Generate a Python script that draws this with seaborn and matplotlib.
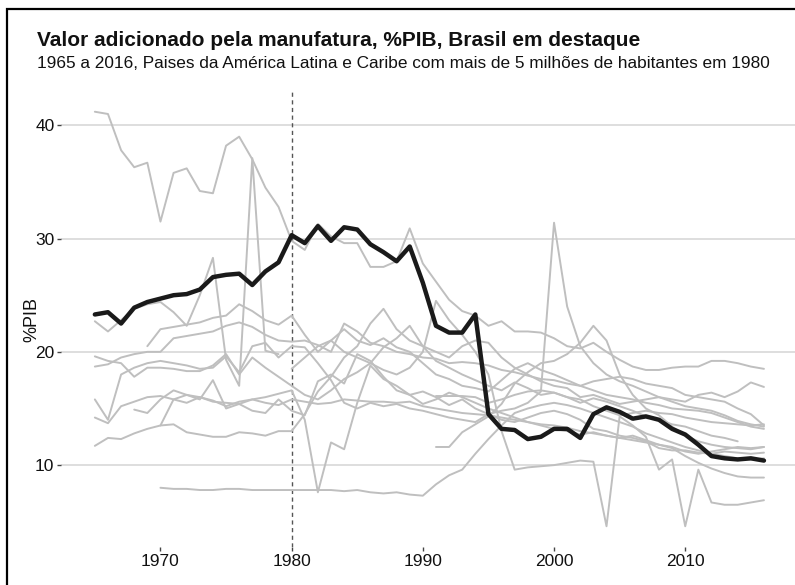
import numpy as np
import pandas as pd
import seaborn as sns
import matplotlib.pyplot as plt
from matplotlib.patches import Rectangle

# Brazil, 1965-2016
brasil_ano0 = 1965
brasil = [23.3, 23.5, 22.5, 23.9, 24.4, 24.7, 25.0, 25.1, 25.5, 26.6,
          26.8, 26.9, 25.9, 27.1, 27.9, 30.3, 29.6, 31.1, 29.8, 31.0,
          30.8, 29.5, 28.8, 28.0, 29.3, 26.1, 22.3, 21.7, 21.7, 23.3,
          14.5, 13.2, 13.1, 12.3, 12.5, 13.2, 13.2, 12.4, 14.5, 15.1,
          14.7, 14.1, 14.3, 14.0, 13.2, 12.7, 11.8, 10.8, 10.6, 10.5,
          10.6, 10.4]

# other countries (first year, values)
pais01_ano0 = 1965
pais01 = [41.2, 41.0, 37.8, 36.3, 36.7, 31.5, 35.8, 36.2, 34.2, 34.0,
          38.2, 39.0, 37.0, 34.5, 32.8, 29.8, 29.0, 31.3, 30.2, 29.6,
          29.6, 27.5, 27.5, 28.0, 30.9, 27.8, 26.2, 24.6, 23.6, 23.2,
          22.3, 22.7, 21.8, 21.8, 21.7, 21.2, 20.5, 20.3, 20.8, 20.0,
          19.3, 18.7, 18.4, 18.4, 18.6, 18.7, 18.7, 19.2, 19.2, 19.0,
          18.7, 18.5]
pais02_ano0 = 1965
pais02 = [22.7, 21.8, 22.8, 23.8, 24.2, 24.4, 23.5, 22.3, 25.0, 28.3,
          19.3, 17.0, 37.1, 20.1, 19.8]
pais03_ano0 = 1965
pais03 = [19.6, 19.2, 19.0, 17.8, 18.6, 18.6, 18.5, 18.3, 18.3, 18.8,
          19.8, 18.0, 19.5, 18.6, 17.8, 17.0, 16.2, 15.8, 16.6, 17.6,
          18.2, 19.0, 20.4, 21.2, 22.3, 20.5, 19.2, 18.6, 18.0, 17.5,
          17.0, 16.6, 17.3, 16.8, 16.2, 16.4, 16.0, 15.5, 15.9, 15.6,
          15.2, 14.8, 14.3, 14.0, 13.6, 13.4, 13.0, 12.6, 12.4, 12.1]
pais04_ano0 = 1965
pais04 = [18.7, 18.9, 19.5, 19.8, 20.0, 20.0, 21.2, 21.4, 21.6, 21.8,
          22.3, 22.6, 22.2, 21.5, 21.0, 20.9, 21.0, 20.6, 20.0, 22.5,
          21.8, 20.8, 20.5, 20.0, 19.8, 19.5, 19.4, 19.0, 19.1, 19.0,
          18.8, 18.4, 18.2, 17.9, 17.6, 17.5, 17.2, 17.0, 17.4, 17.6,
          17.8, 17.6, 17.2, 17.0, 16.8, 16.2, 16.0, 15.8, 15.6, 15.0,
          14.5, 13.5]
pais05_ano0 = 1965
pais05 = [15.8, 14.0, 18.0, 18.6, 19.0, 19.2, 19.0, 18.8, 18.5, 18.6,
          19.6, 18.2, 20.5, 20.8, 19.5, 20.5, 20.4, 19.0, 17.5, 15.5,
          15.0, 15.5, 15.2, 15.4, 15.0, 14.8, 14.5, 14.2, 14.0, 13.8,
          14.5, 14.8, 15.0, 15.5, 16.5, 31.4, 24.0, 20.5, 19.0, 18.0,
          17.4, 17.0, 16.5, 16.0, 15.6, 15.2, 15.0, 14.8, 14.4, 13.9,
          13.6, 13.4]
pais06_ano0 = 1965
pais06 = [14.2, 13.7, 15.2, 15.6, 16.0, 16.1, 15.8, 15.5, 16.0, 15.7,
          15.2, 15.6, 15.8, 16.0, 16.3, 16.6, 14.0, 7.6, 12.0, 11.4,
          15.5, 18.8, 17.6, 17.0, 16.2, 15.4, 15.8, 16.4, 16.0, 15.5,
          15.0, 14.6, 14.2, 13.8, 13.5, 13.2, 13.0, 12.7, 12.9, 12.6,
          12.4, 12.6, 12.2, 11.8, 11.6, 11.2, 11.0, 11.2, 11.4, 11.6,
          11.5, 11.6]
pais07_ano0 = 1965
pais07 = [11.7, 12.4, 12.3, 12.8, 13.2, 13.5, 15.8, 16.2, 16.0, 15.6,
          15.5, 15.4, 15.8, 15.5, 15.3, 15.8, 15.6, 15.4, 15.5, 15.8,
          15.7, 15.6, 15.6, 15.5, 15.6, 15.2, 15.0, 14.8, 14.6, 14.5,
          14.4, 14.2, 14.0, 13.8, 13.6, 13.5, 13.3, 13.0, 12.8, 12.6,
          12.4, 12.2, 12.0, 11.8, 11.5, 10.8, 10.2, 9.7, 9.3, 9.0,
          8.9, 8.9]
pais08_ano0 = 1968
pais08 = [14.9, 14.6, 15.8, 16.6, 16.2, 15.8, 17.5, 15.0, 15.4, 14.8,
          14.6, 15.8, 14.8, 14.4, 17.4, 18.0, 17.2, 19.8, 19.2, 17.8,
          16.6, 16.2, 16.5, 16.0, 15.3, 15.8, 15.0, 14.5, 14.0, 13.8,
          14.2, 14.6, 14.8, 14.5, 14.0, 13.2, 13.0, 12.6, 12.4, 12.1,
          11.5, 11.3, 11.3, 11.1, 11.0, 11.2, 11.1, 11.0, 11.1]
pais09_ano0 = 1970
pais09 = [13.5, 13.6, 12.9, 12.7, 12.5, 12.5, 12.9, 12.8, 12.6, 13.0,
          13.0, 14.5, 16.5, 17.8, 19.5, 20.5, 22.5, 23.8, 22.0, 21.0,
          20.5, 20.0, 19.5, 20.5, 21.0, 20.8, 19.5, 18.6, 18.0, 17.4,
          17.0, 16.8, 16.0, 16.2, 15.8, 15.4, 15.6, 15.8, 16.0, 15.8,
          15.6, 16.2, 16.4, 16.0, 16.5, 17.3, 16.9]
pais10_ano0 = 1970
pais10 = [8.0, 7.9, 7.9, 7.8, 7.8, 7.9, 7.9, 7.8, 7.8, 7.8,
          7.8, 7.8, 7.8, 7.8, 7.7, 7.8, 7.6, 7.5, 7.6, 7.4,
          7.3, 8.3, 9.1, 9.6, 11.0, 12.3, 13.5, 14.6, 15.0, 15.3,
          15.5, 15.3, 15.0, 14.6, 14.2, 13.8, 13.4, 12.8, 12.4, 12.0,
          11.6, 11.3, 11.0, 10.8, 10.6, 10.5, 10.6]
pais11_ano0 = 1969
pais11 = [20.5, 22.0, 22.2, 22.4, 22.6, 23.0, 23.2, 24.2, 23.6, 22.8,
          22.4, 23.2, 21.5, 20.0, 21.0, 22.0, 21.0, 20.6, 21.2, 20.4,
          20.0, 19.0, 18.0, 17.6, 17.0, 16.8, 16.5, 17.5, 18.5, 19.0,
          18.4, 18.0, 17.5, 17.0, 16.6, 16.2, 16.0, 15.8, 15.5, 15.3,
          15.0, 14.9, 14.8, 14.6, 14.2, 13.8, 13.4, 13.2]
pais12_ano0 = 1980
pais12 = [18.5, 19.5, 20.5, 21.0, 20.0, 19.5, 19.0, 18.4, 18.0, 18.6,
          20.0, 24.5, 22.8, 21.5, 20.0, 18.0, 13.0, 9.6, 9.8, 9.9,
          10.0, 10.2, 10.4, 10.3, 4.6, 14.3, 13.5, 12.5, 9.6, 10.5,
          4.6, 9.6, 6.7, 6.5, 6.5, 6.7, 6.9]
pais13_ano0 = 1991
pais13 = [16.1, 16.1, 16.1, 16.0, 15.5, 15.8, 16.2, 16.5, 16.6, 16.4,
          16.0, 15.8, 15.2, 14.8, 14.4, 14.6, 14.8, 14.6, 14.5, 14.2,
          14.0, 13.8, 13.7, 13.6, 13.5, 13.6]
pais14_ano0 = 1991
pais14 = [11.6, 11.6, 12.9, 13.6, 14.3, 15.4, 17.2, 18.2, 19.0, 19.2,
          19.8, 20.8, 22.3, 21.0, 18.0, 16.2, 15.0, 14.4, 13.4, 12.6,
          12.1, 11.8, 11.6, 11.5, 11.4, 11.6]

outros = [(pais01_ano0, pais01), (pais02_ano0, pais02), (pais03_ano0, pais03),
          (pais04_ano0, pais04), (pais05_ano0, pais05), (pais06_ano0, pais06),
          (pais07_ano0, pais07), (pais08_ano0, pais08), (pais09_ano0, pais09),
          (pais10_ano0, pais10), (pais11_ano0, pais11), (pais12_ano0, pais12),
          (pais13_ano0, pais13), (pais14_ano0, pais14)]

rows = []
for i, (ano0, vals) in enumerate(outros):
    for j, v in enumerate(vals):
        rows.append({'pais': 'p%02d' % i, 'ano': ano0 + j, 'pib': v})
df = pd.DataFrame(rows)
df_br = pd.DataFrame({'ano': np.arange(brasil_ano0, brasil_ano0 + len(brasil)),
                      'pib': brasil})

sns.set_theme(style='white')
plt.rcParams['font.family'] = ['Liberation Sans', 'DejaVu Sans']

fig = plt.figure(figsize=(7.95, 5.85), dpi=100)
ax = fig.add_axes([61.4 / 795, 38 / 585, 736 / 795, 456 / 585])

ax.axvline(1980, color='#555555', lw=1.0, ls=(0, (3, 2.5)), zorder=1)
sns.lineplot(data=df, x='ano', y='pib', units='pais', estimator=None,
             color='#bfbfbf', lw=1.4, ax=ax, zorder=2)
sns.lineplot(data=df_br, x='ano', y='pib', color='#1a1a1a', lw=3.2,
             ax=ax, zorder=3)

ax.set_xlim(1962.45, 2018.55)
ax.set_ylim(2.77, 43.03)
ax.set_xticks([1970, 1980, 1990, 2000, 2010])
ax.set_yticks([10, 20, 30, 40])
ax.grid(axis='y', color='#d4d4d4', lw=1.1)
ax.grid(axis='x', visible=False)
ax.set_axisbelow(True)
for s in ax.spines.values():
    s.set_visible(False)
ax.tick_params(axis='both', length=3, width=1, color='#444444',
               labelsize=12.5, labelcolor='#111111', pad=2, bottom=True, left=True)
ax.set_xlabel('')
ax.set_ylabel('%PIB', fontsize=13, color='#111111')
ax.yaxis.set_label_coords(-0.029, 0.5)

fig.text(37 / 795, 1 - 40 / 585, 'Valor adicionado pela manufatura, %PIB, Brasil em destaque',
         fontsize=15, fontweight='bold', va='center', ha='left', color='#111111')
fig.text(37 / 795, 1 - 64 / 585,
         '1965 a 2016, Paises da América Latina e Caribe com mais de 5 milhões de habitantes em 1980',
         fontsize=12.4, va='center', ha='left', color='#111111')

fig.patches.append(Rectangle((7 / 795, -0.1), 1.2, 1.1 - 9 / 585, transform=fig.transFigure,
                             fill=False, ec='black', lw=1.6))

fig.savefig('out.png', dpi=100)
